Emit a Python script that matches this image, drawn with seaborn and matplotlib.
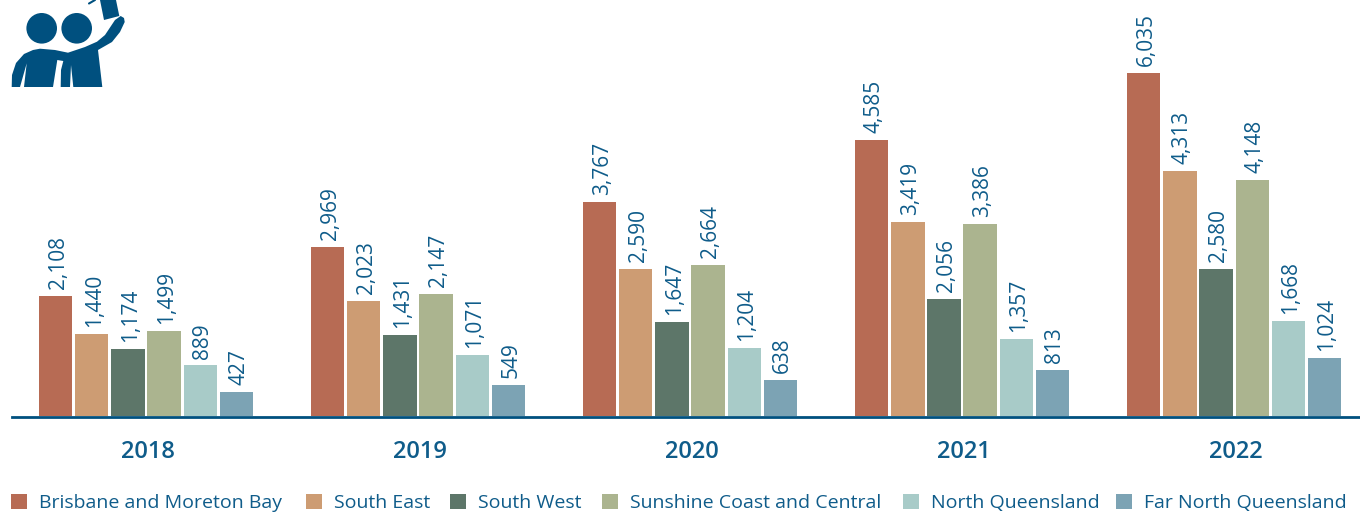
"""Regional counts by year, grouped bars."""

import matplotlib

matplotlib.use("Agg")

import matplotlib.pyplot as plt
import pandas as pd
import seaborn as sns
from matplotlib.patches import Circle, Polygon
from matplotlib.transforms import ScaledTranslation

years = ["2018", "2019", "2020", "2021", "2022"]
regions = [
    "Brisbane and Moreton Bay",
    "South East",
    "South West",
    "Sunshine Coast and Central",
    "North Queensland",
    "Far North Queensland",
]
# the 2021 Brisbane bar is drawn at about 4,855 in the source, its label says 4,585
brisbane = [2108, 2969, 3767, 4855, 6035]
brisbane_labels = [2108, 2969, 3767, 4585, 6035]
south_east = [1440, 2023, 2590, 3419, 4313]
south_west = [1174, 1431, 1647, 2056, 2580]
sunshine = [1499, 2147, 2664, 3386, 4148]
north_qld = [889, 1071, 1204, 1357, 1668]
far_north = [427, 549, 638, 813, 1024]
colors = ["#B76B54", "#CD9C73", "#5D7669", "#ABB48F", "#A8CBC8", "#7CA3B4"]

TEXT = "#0F5C8A"
BLUE = "#00507F"
LEGEND_X = [11, 306, 450, 602, 903, 1116]

sns.set_theme(style="white")
plt.rcParams["font.family"] = ["Open Sans", "DejaVu Sans"]

series = [brisbane, south_east, south_west, sunshine, north_qld, far_north]
label_values = [brisbane_labels, south_east, south_west, sunshine, north_qld, far_north]
rows = []
for region, values in zip(regions, series):
    for year, value in zip(years, values):
        rows.append({"year": year, "region": region, "value": value})
df = pd.DataFrame(rows)

fig = plt.figure(figsize=(13.6, 5.12), dpi=100)
ax = fig.add_axes([12 / 1360, (512 - 416) / 512, 1348 / 1360, 416 / 512])
sns.barplot(
    data=df, x="year", y="value", hue="region", hue_order=regions, palette=colors,
    width=0.796, gap=0.08, saturation=1, linewidth=0, ax=ax, errorbar=None,
)

for container, values in zip(ax.containers, label_values):
    texts = ax.bar_label(
        container, labels=[f"{v:,}" for v in values], rotation=90,
        padding=5, fontsize=15, color=TEXT,
    )
    for text in texts:
        text.xyann = (1.8, text.xyann[1])

ax.set_xlim(-0.4926, 4.463)
ax.set_ylim(0, 7319)
ax.set_xlabel("")
ax.set_ylabel("")
ax.set_yticks([])
for side in ["top", "left", "right"]:
    ax.spines[side].set_visible(False)
ax.spines["bottom"].set_color(BLUE)
ax.spines["bottom"].set_linewidth(2)
ax.spines["bottom"].set_position(("outward", 1))

# spine position resets the ticks, so style them afterwards
ax.tick_params(axis="x", length=0, pad=16, labelsize=17, labelcolor=TEXT)
shift = ScaledTranslation(2 / 100, 0, fig.dpi_scale_trans)
for label in ax.get_xticklabels():
    label.set_fontweight("semibold")
    label.set_transform(label.get_transform() + shift)

handles, labels = ax.get_legend_handles_labels()
ax.get_legend().remove()
for handle, label, left in zip(handles, labels, LEGEND_X):
    fig.legend(
        [handle], [label], frameon=False, loc="lower left",
        bbox_to_anchor=(left / 1360, 0), borderaxespad=0, borderpad=0,
        fontsize=14, labelcolor=TEXT, handlelength=0.8, handleheight=0.8,
        handletextpad=0.65,
    )

# selfie icon, drawn in pixel coordinates
icon = fig.add_axes([0, 0, 1, 1], facecolor="none")
icon.set_xlim(0, 1360)
icon.set_ylim(512, 0)
icon.axis("off")
icon.add_patch(Circle((41.7, 28.3), 15.3, color=BLUE, lw=0))
icon.add_patch(Circle((76.7, 28.3), 15.3, color=BLUE, lw=0))
icon.add_patch(Polygon(
    [(11.7, 87), (12, 75), (16, 63), (24, 54), (33, 50), (40, 48.7), (55, 50), (68, 52.7),
     (85, 47), (97, 41.7), (105, 35), (111, 26), (115, 20), (120.7, 16), (124, 18),
     (124.7, 22), (120, 32), (112, 42), (98, 50), (102.3, 87)],
    closed=True, color=BLUE, lw=0,
))
for gap in [
    [(20, 87), (24, 87), (26.7, 63.3)],
    [(53, 87), (60.7, 87), (61, 70), (63.3, 61), (57.3, 60)],
    [(70, 87), (73.3, 87), (71, 65)],
]:
    icon.add_patch(Polygon(gap, closed=True, color="white", lw=0))
icon.add_patch(Polygon(
    [(100, 0), (116, 0), (119.3, 16), (104, 20)], closed=True, color=BLUE, lw=0,
))
icon.plot([89, 95], [3.5, 0], color=BLUE, lw=1.5)

fig.savefig("out.png", dpi=100)
plt.close(fig)
